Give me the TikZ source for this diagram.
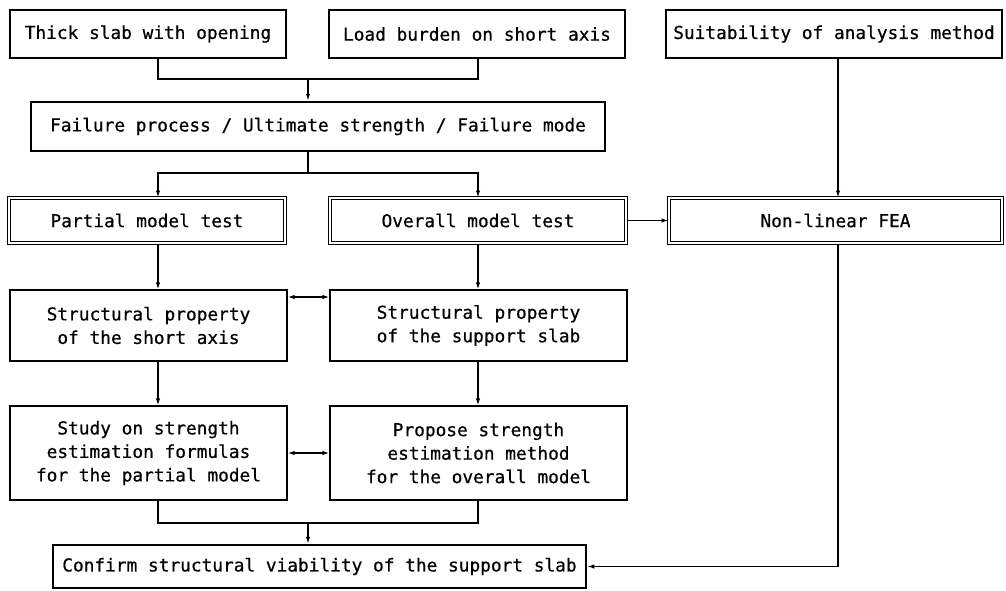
\documentclass[tikz,border=0pt]{standalone}
\usepackage{fontspec}
\newfontfamily\diafont[FakeBold=0.6]{DejaVu Sans Mono}
\usetikzlibrary{arrows.meta,calc}
\begin{document}
\begin{tikzpicture}[x=1pt,y=-1pt,
  box/.style={draw, line width=1.3pt, inner sep=0pt, align=center,
    font=\diafont\fontsize{17.8}{23.5}\selectfont},
  thickbox/.style={box, line width=2.5pt},
  dblbox/.style={box, double, line width=1pt, double distance=2.4pt},
  conn/.style={line width=1.3pt},
  arr/.style={conn, -{Latex[length=7pt,width=4.5pt]}},
  darr/.style={conn, {Latex[length=7pt,width=4.5pt]}-{Latex[length=7pt,width=4.5pt]}}
]
\fill[white] (0,0) rectangle (1006,590);
\useasboundingbox (0,0) rectangle (1006,590);

% row 1
\node[box, minimum width=276pt, minimum height=48pt] (A) at (148,34) {Thick slab with opening};
\node[box, minimum width=296pt, minimum height=48pt] (B) at (477,34) {Load burden on short axis};
\node[box, minimum width=336pt, minimum height=48pt] (C) at (834,34) {Suitability of analysis method};
% row 2
\node[thickbox, minimum width=574pt, minimum height=49pt] (D) at (318,126.5) {Failure process / Ultimate strength / Failure mode};
% row 3
\node[dblbox, minimum width=276pt, minimum height=45pt] (P) at (147,220.5) {Partial model test};
\node[dblbox, minimum width=296pt, minimum height=45pt] (O) at (478,220.5) {Overall model test};
\node[dblbox, minimum width=333pt, minimum height=45pt] (F) at (835.5,220.5) {Non-linear FEA};
% row 4
\node[box, minimum width=277pt, minimum height=71pt] (S1) at (148.5,325.5) {Structural property\\of the short axis};
\node[box, minimum width=297pt, minimum height=71pt] (S2) at (478.5,325.5) {Structural property\\of the support slab};
% row 5
\node[box, minimum width=277pt, minimum height=94pt] (T1) at (148.5,453) {Study on strength\\estimation formulas\\for the partial model};
\node[box, minimum width=297pt, minimum height=94pt] (T2) at (478.5,453) {Propose strength\\estimation method\\for the overall model};
% row 6
\node[thickbox, minimum width=533pt, minimum height=43pt] (E) at (319.5,566.5) {Confirm structural viability of the support slab};

% helper coordinates
\coordinate (cl) at (158,0);
\coordinate (cr) at (478,0);
\coordinate (cx) at (838,0);
\coordinate (h1) at (0,297);
\coordinate (j1) at (308,79);
\coordinate (j2) at (308,173);
\coordinate (j3) at (308,523);

% connectors
\draw[conn] (A.south -| cl) |- (j1) -| (B.south -| cr);
\draw[arr] (j1) -- (D.north -| j1);
\draw[conn] (D.south -| j2) -- (j2);
\draw[arr] (j2) -| (P.north -| cl);
\draw[arr] (j2) -| (O.north -| cr);
\draw[arr] (O.east) -- (F.west);
\draw[arr] (C.south -| cx) -- (F.north -| cx);
\draw[arr] (P.south -| cl) -- (S1.north -| cl);
\draw[arr] (O.south -| cr) -- (S2.north -| cr);
\draw[darr] (S1.east |- h1) -- (S2.west |- h1);
\draw[arr] (S1.south -| cl) -- (T1.north -| cl);
\draw[arr] (S2.south -| cr) -- (T2.north -| cr);
\draw[darr] (T1.east) -- (T2.west);
\draw[conn] (T1.south -| cl) |- (j3) -| (T2.south -| cr);
\draw[arr] (j3) -- (E.north -| j3);
\draw[arr] (F.south -| cx) |- (E.east);
\end{tikzpicture}
\end{document}
